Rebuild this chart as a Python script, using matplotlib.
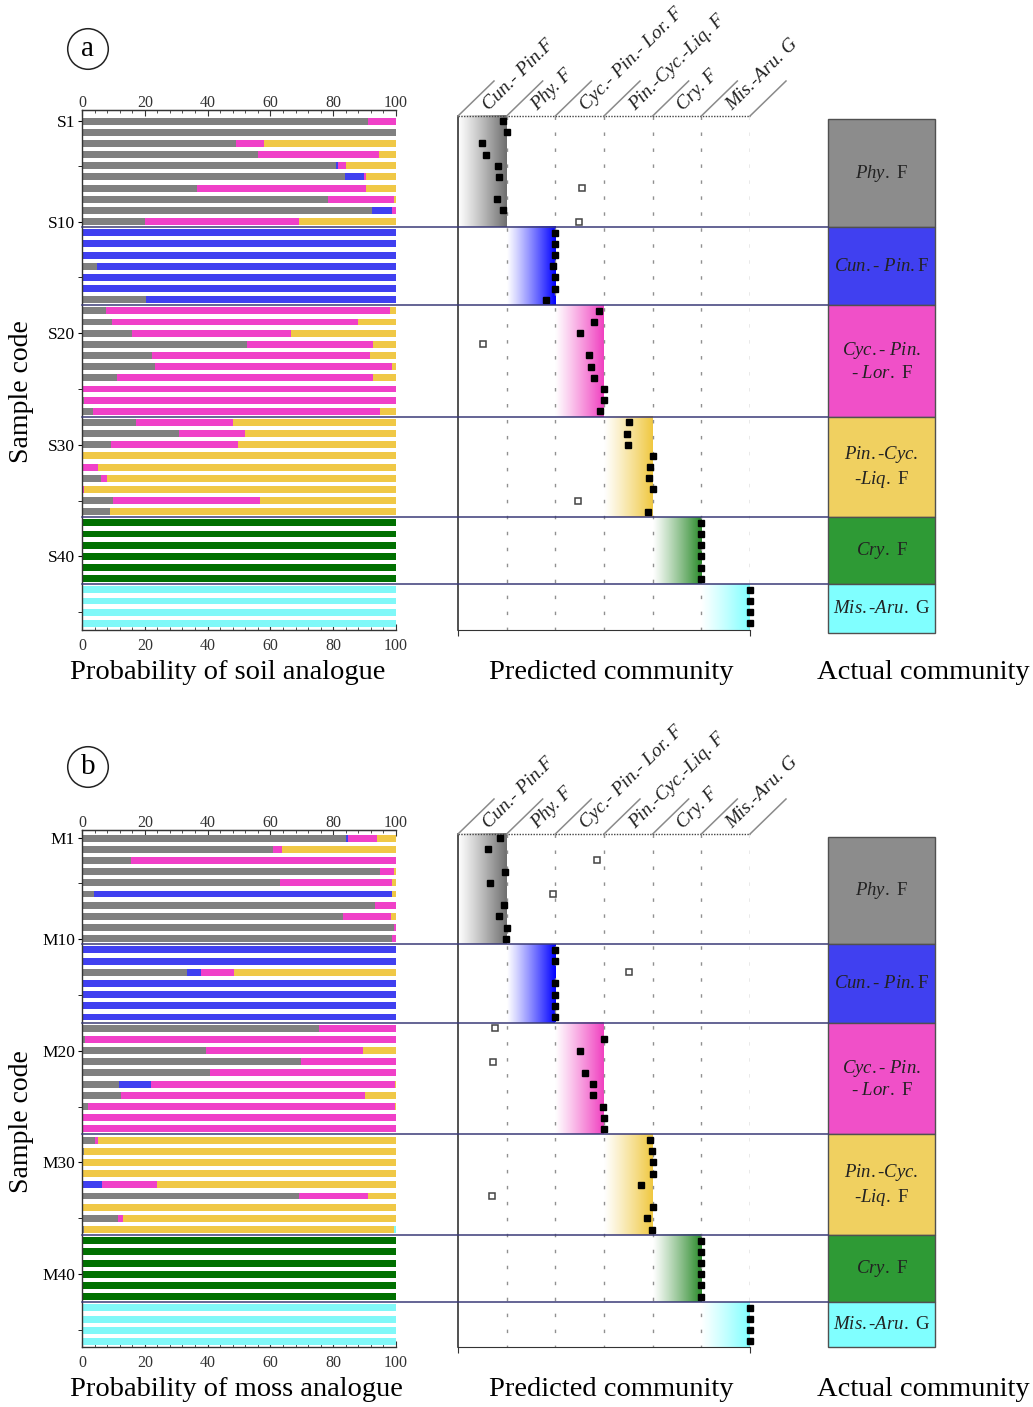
import numpy as np
import matplotlib
matplotlib.use('Agg')
import matplotlib.pyplot as plt
from matplotlib.colors import to_rgb
from matplotlib.patches import Rectangle
from matplotlib.lines import Line2D
import matplotlib.transforms as mtransforms

W, H = 1033, 1407
plt.rcParams['font.family'] = ['Liberation Serif', 'DejaVu Serif']
plt.rcParams['mathtext.fontset'] = 'custom'
plt.rcParams['mathtext.rm'] = 'Liberation Serif'
plt.rcParams['mathtext.it'] = 'Liberation Serif:italic'

# ---------------- data ----------------
group_sizes = [10, 7, 10, 9, 6, 4]
comp_colors = ['#808080', '#4040f0', '#f040c8', '#f0c846', '#007000', '#80f8f8']
band_colors = ['#6e6e6e', '#0000ff', '#f040c0', '#f0c840', '#2a8a2a', '#80ffff']
box_colors = ['#8c8c8c', '#4040f0', '#f050c8', '#f0d060', '#2e9a35', '#80ffff']
header_labels = ['Cun.- Pin.F', 'Phy. F', 'Cyc.- Pin.- Lor. F', 'Pin.-Cyc.-Liq. F', 'Cry. F', 'Mis.-Aru. G']
box_labels = [r'$\mathit{Phy.}$ F', r'$\mathit{Cun.}$- $\mathit{Pin.}$F',
              r'$\mathit{Cyc.}$- $\mathit{Pin.}$' + '\n' + r'- $\mathit{Lor.}$ F',
              r'$\mathit{Pin.}$-$\mathit{Cyc.}$' + '\n' + r'-$\mathit{Liq.}$ F',
              r'$\mathit{Cry.}$ F', r'$\mathit{Mis.}$-$\mathit{Aru.}$ G']

# soil samples S1..S46 (probability %, per analogue community)
soil_phy = [91, 100, 49, 56, 81, 83.7, 36.5, 78.4, 92.5, 20,
            0, 0, 0, 4.8, 0, 0, 20.3,
            7.8, 9.6, 16, 52.6, 22.3, 23.2, 11.2, 0, 0.5, 3.5,
            17.3, 30.8, 9.3, 0, 0, 6.2, 0, 9.9, 8.8,
            0, 0, 0, 0, 0, 0, 0, 0, 0, 0]
soil_cun = [0, 0, 0, 0, 0.5, 6.1, 0, 0, 6.3, 0,
            100, 100, 100, 95.2, 100, 100, 79.7,
            0, 0, 0, 0, 0, 0, 0, 0, 0, 0,
            0, 0, 0, 0, 0, 0, 0, 0, 0,
            0, 0, 0, 0, 0, 0, 0, 0, 0, 0]
soil_cyc = [9, 0, 9, 38.5, 2.5, 0.8, 54, 21, 1.2, 49,
            0, 0, 0, 0, 0, 0, 0,
            90.2, 78.2, 50.5, 40, 69.4, 75.4, 81.6, 100, 99.5, 91.4,
            30.7, 21, 40.5, 0, 5, 1.8, 0.7, 46.8, 0,
            0, 0, 0, 0, 0, 0, 0, 0, 0, 0]
soil_pin = [0, 0, 42, 5.5, 16, 9.4, 9.5, 0.6, 0, 31,
            0, 0, 0, 0, 0, 0, 0,
            2, 12.2, 33.5, 7.4, 8.3, 1.4, 7.2, 0, 0, 5.1,
            52, 48.2, 50.2, 100, 95, 92, 99.3, 43.3, 91.2,
            0, 0, 0, 0, 0, 0, 0, 0, 0, 0]
soil_cry = [0] * 36 + [100] * 6 + [0] * 4
soil_mis = [0] * 42 + [100] * 4
soil_pred = [0.93, 1.0, 0.49, 0.57, 0.82, 0.85, 2.54, 0.80, 0.93, 2.49,
             2.0, 2.0, 2.0, 1.95, 2.0, 2.0, 1.80,
             2.90, 2.79, 2.51, 0.51, 2.69, 2.74, 2.80, 3.0, 2.99, 2.91,
             3.52, 3.48, 3.50, 4.0, 3.94, 3.92, 4.0, 2.46, 3.90,
             5, 5, 5, 5, 5, 5, 6, 6, 6, 6]
soil_wrong = [6, 9, 20, 34]

# moss samples M1..M46
moss_phy = [84, 60.9, 15.7, 94.9, 63.2, 3.8, 93.3, 83, 99.4, 98.6,
            0, 0, 33.3, 0, 0, 0, 0,
            75.6, 0.9, 39.6, 69.9, 40.7, 11.7, 12.3, 1.9, 0, 0,
            4.2, 0.5, 0, 0, 0.3, 69.2, 0, 11.5, 0.5,
            0, 0, 0, 0, 0, 0, 0, 0, 0, 0]
moss_cun = [0.7, 0, 0, 0, 0, 94.8, 0, 0, 0, 0,
            100, 100, 4.5, 100, 100, 100, 100,
            0, 0, 0, 0, 0, 10.2, 0, 0, 0, 0,
            0, 0, 0, 0, 6.1, 0, 0, 0, 0,
            0, 0, 0, 0, 0, 0, 0, 0, 0, 0]
moss_cyc = [9.1, 2.9, 84.3, 4.5, 35.6, 0, 6.7, 15.3, 0.6, 1.4,
            0, 0, 10.6, 0, 0, 0, 0,
            24.4, 99.1, 50, 30.1, 59.3, 77.8, 77.8, 97.8, 100, 100,
            0.9, 0, 0, 0, 17.5, 21.8, 0, 1.4, 0,
            0, 0, 0, 0, 0, 0, 0, 0, 0, 0]
moss_pin = [6.2, 36.2, 0, 0.6, 1.2, 1.4, 0, 1.7, 0, 0,
            0, 0, 51.6, 0, 0, 0, 0,
            0, 0, 10.4, 0, 0, 0.3, 9.9, 0.3, 0, 0,
            94.9, 99.5, 100, 100, 76.1, 9, 100, 87.1, 98.9,
            0, 0, 0, 0, 0, 0, 0, 0, 0, 0]
moss_cry = [0] * 36 + [100] * 6 + [0] * 4
moss_mis = [0] * 35 + [0.6] + [0] * 6 + [100] * 4
moss_pred = [0.86, 0.62, 2.85, 0.97, 0.65, 1.96, 0.94, 0.84, 1.0, 0.99,
             2.0, 2.0, 3.52, 2.0, 2.0, 2.0, 2.0,
             0.76, 3.0, 2.50, 0.71, 2.60, 2.78, 2.78, 2.98, 3.0, 3.0,
             3.94, 3.99, 4.0, 4.0, 3.77, 0.69, 4.0, 3.88, 3.99,
             5, 5, 5, 5, 5, 5, 6, 6, 6, 6]
moss_wrong = [2, 5, 12, 17, 20, 32]

fig = plt.figure(figsize=(W / 100, H / 100), dpi=100)


def add_ax(x0, y0, x1, y1):
    return fig.add_axes([x0 / W, 1 - y1 / H, (x1 - x0) / W, (y1 - y0) / H])


def fx(x):
    return x / W


def fy(y):
    return 1 - y / H


def draw_panel(letter, prefix, comps, pred, wrong, top_px, bot_px, ylim_top, ylim_bot,
               dot_px, box_top, box_bot, xlabel, title_y, circle_y, code_y, xlabel_x):
    n = len(pred)
    rows = np.arange(n)
    bounds = np.cumsum([0] + group_sizes)
    # ---------- bars ----------
    axb = add_ax(82, top_px, 396, bot_px)
    left = np.zeros(n)
    for vals, col in zip(comps, comp_colors):
        v = np.array(vals, dtype=float)
        axb.barh(rows, v, left=left, height=0.62, color=col, linewidth=0, zorder=2)
        left += v
    axb.set_xlim(0, 100)
    axb.set_ylim(ylim_bot, ylim_top)
    axb.spines['right'].set_visible(False)
    for s in ['left', 'top', 'bottom']:
        axb.spines[s].set_linewidth(1.0)
        axb.spines[s].set_color('#333333')
    axb.set_xticks(np.arange(0, 101, 20))
    axb.set_xticks(np.arange(0, 101, 4), minor=True)
    axb.tick_params(axis='x', which='both', direction='in', labelsize=11.5, pad=6,
                    colors='#333333')
    axb.tick_params(axis='x', which='major', length=4)
    axb.tick_params(axis='x', which='minor', length=2.5)
    sec = axb.secondary_xaxis('top')
    sec.set_xticks(np.arange(0, 101, 20))
    sec.set_xticks(np.arange(0, 101, 4), minor=True)
    sec.spines['top'].set_color('#333333')
    sec.tick_params(axis='x', which='both', direction='in', labelsize=11.5, pad=-1,
                    colors='#333333')
    sec.tick_params(axis='x', which='major', length=4)
    sec.tick_params(axis='x', which='minor', length=2.5)
    axb.set_yticks([0, 9, 19, 29, 39])
    axb.set_yticklabels([f'{prefix}{i}' for i in [1, 10, 20, 30, 40]])
    axb.set_yticks([4, 14, 24, 34, 44], minor=True)
    axb.tick_params(axis='y', which='both', direction='out', length=3, labelsize=12.5, pad=2)

    # ---------- predicted ----------
    axm = add_ax(458, top_px, 750, bot_px)
    dot_row = ylim_top + (dot_px - top_px) / (bot_px - top_px) * (ylim_bot - ylim_top)
    for g in range(6):
        r0 = dot_row if g == 0 else bounds[g] - 0.5
        r1 = ylim_bot if g == 5 else bounds[g + 1] - 0.5
        c = np.array(to_rgb(band_colors[g]))
        t = np.linspace(0, 1, 256) ** 1.1
        grad = (1 - t)[:, None] * np.ones(3) + t[:, None] * c
        axm.imshow(grad[None, :, :], extent=[g, g + 1, r1, r0], aspect='auto',
                   interpolation='bilinear', zorder=1)
    for k in range(1, 7):
        axm.plot([k, k], [dot_row, ylim_bot], color='#909090', lw=1,
                 linestyle=(0, (2.5, 9)), zorder=2)
    axm.plot([0, 6], [dot_row, dot_row], color='#444444', lw=1, linestyle=(0, (1, 1)),
             zorder=3, clip_on=False)
    axm.plot([0, 0], [dot_row, ylim_bot], color='#333333', lw=1.2, zorder=3, clip_on=False)
    pred = np.array(pred)
    ok = np.array([i not in wrong for i in range(n)])
    axm.plot(pred[ok], rows[ok], 's', color='black', markersize=4.8, zorder=5, clip_on=False)
    axm.plot(pred[~ok], rows[~ok], 's', markerfacecolor='white', markeredgecolor='#444444',
             markeredgewidth=1.1, markersize=4.8, zorder=5, clip_on=False)
    axm.set_xlim(0, 6)
    axm.set_ylim(ylim_bot, ylim_top)
    for s in ['left', 'top', 'right']:
        axm.spines[s].set_visible(False)
    axm.spines['bottom'].set_color('#333333')
    axm.set_xticks([0, 6])
    axm.set_xticklabels([])
    axm.set_yticks([])
    axm.tick_params(axis='x', direction='out', length=4, color='#333333')

    # header lines and labels
    for k in range(7):
        x = 458 + k * (292 / 6)
        fig.add_artist(Line2D([fx(x), fx(x + 36)], [fy(dot_px), fy(dot_px - 35)],
                              color='#8a8a8a', lw=1.1))
    for k, lab in enumerate(header_labels):
        x = 458 + k * (292 / 6) + 31
        fig.text(fx(x), fy(dot_px - 5), lab, rotation=45, rotation_mode='anchor',
                 ha='left', va='baseline', fontsize=14, style='italic', color='#222222')

    # ---------- actual ----------
    axa = add_ax(828, top_px, 935, bot_px)
    axa.set_xlim(0, 1)
    axa.set_ylim(ylim_bot, ylim_top)
    axa.axis('off')
    for g in range(6):
        r0 = box_top if g == 0 else bounds[g] - 0.5
        r1 = box_bot if g == 5 else bounds[g + 1] - 0.5
        axa.add_patch(Rectangle((0, r0), 1, r1 - r0, facecolor=box_colors[g],
                                edgecolor='#505050', lw=1.0, clip_on=False))
        axa.text(0.5, (r0 + r1) / 2, box_labels[g], ha='center', va='center',
                 fontsize=13.5, linespacing=1.3, color='#222222')

    # separators
    tr = mtransforms.blended_transform_factory(fig.transFigure, axb.transData)
    for b in bounds[1:-1]:
        fig.add_artist(Line2D([fx(82), fx(828)], [b - 0.5, b - 0.5], transform=tr,
                              color='#3a3a78', lw=1.1, zorder=1))

    # texts
    fig.text(fx(xlabel_x), fy(title_y), xlabel, ha='center', va='center', fontsize=20.5)
    fig.text(fx(611), fy(title_y), 'Predicted community', ha='center', va='center', fontsize=20.5)
    fig.text(fx(923), fy(title_y), 'Actual community', ha='center', va='center', fontsize=20.5)
    fig.text(fx(22), fy(code_y), 'Sample code', ha='center', va='center', rotation=90,
             fontsize=20)
    fig.text(fx(88), fy(circle_y), letter, ha='center', va='center', fontsize=21,
             bbox=dict(boxstyle='circle,pad=0.25', facecolor='white', edgecolor='#222222', lw=1.1))


draw_panel('a', 'S', [soil_phy, soil_cun, soil_cyc, soil_pin, soil_cry, soil_mis],
           soil_pred, soil_wrong, 110, 630, -1.0, 45.6, 116, -0.18, 45.84,
           'Probability of soil analogue', 672, 49, 392, 228)
draw_panel('b', 'M', [moss_phy, moss_cun, moss_cyc, moss_pin, moss_cry, moss_mis],
           moss_pred, moss_wrong, 830, 1347, -0.72, 45.5, 834, -0.12, 45.5,
           'Probability of moss analogue', 1390, 767, 1122, 236)

fig.savefig('out.png', dpi=100, facecolor='white')
